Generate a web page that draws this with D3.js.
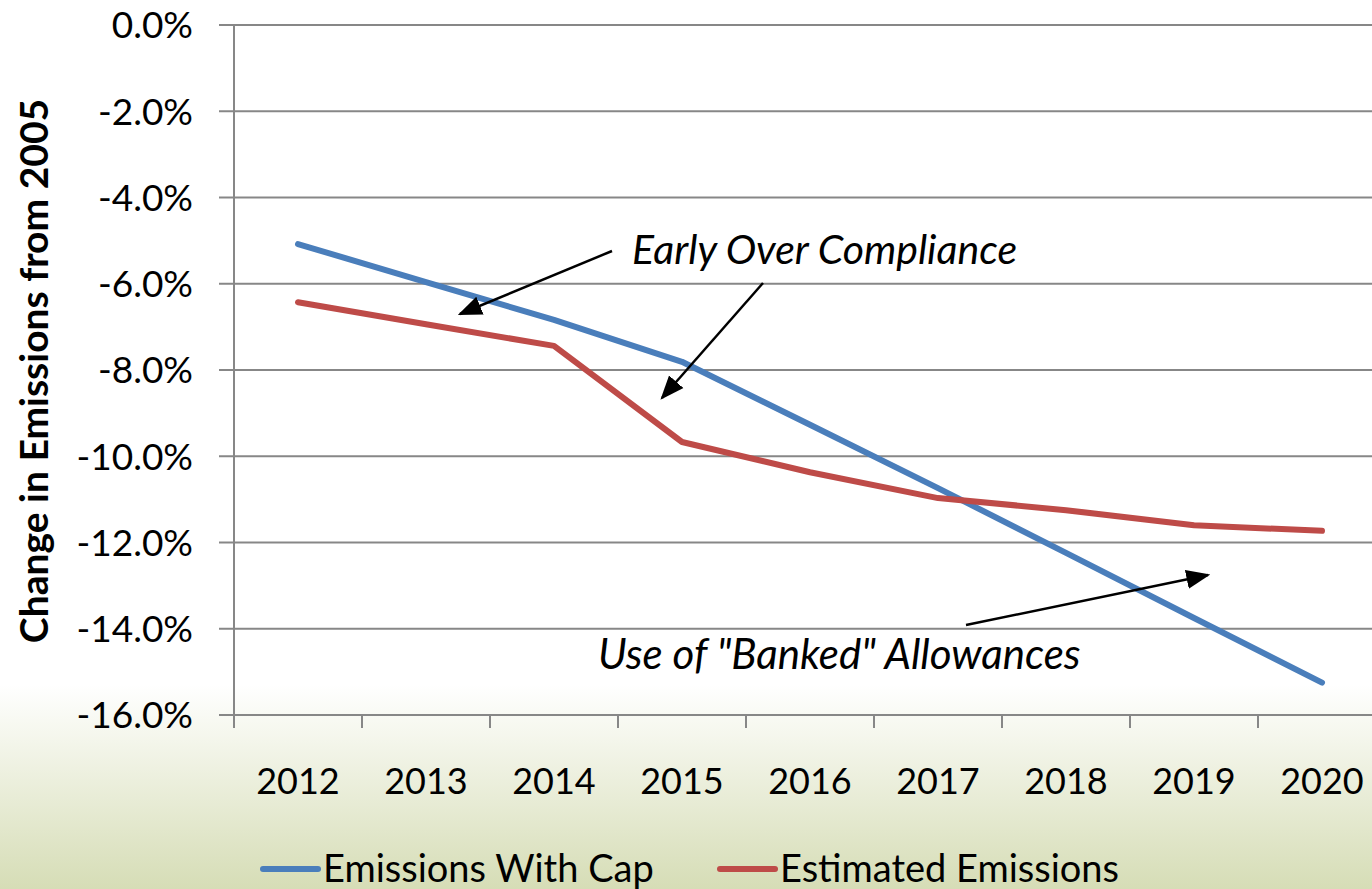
<!DOCTYPE html>
<html>
<head>
<meta charset="utf-8">
<script src="https://cdn.jsdelivr.net/npm/d3@7"></script>
<style>
body { margin: 0; overflow: hidden; }
svg { display: block; font-family: Lato, "Open Sans", sans-serif; }
</style>
</head>
<body>
<svg id="chart" width="1372" height="889"></svg>
<script>
// chart data
var years = ["2012","2013","2014","2015","2016","2017","2018","2019","2020"];
var withCap = [-5.08,-5.96,-6.84,-7.81,-9.27,-10.74,-12.24,-13.75,-15.25];
var estimated = [-6.43,-6.94,-7.44,-9.67,-10.37,-10.97,-11.25,-11.60,-11.73];
var yTicks = [0,-2,-4,-6,-8,-10,-12,-14,-16];
var seriesNames = ["Emissions With Cap","Estimated Emissions"];
var seriesColors = ["#4a7ebb","#be4b48"];

var svg = d3.select("#chart");
var W = 1372, H = 889;

// background gradient
var defs = svg.append("defs");
var grad = defs.append("linearGradient").attr("id","bg").attr("x1",0).attr("y1",0).attr("x2",0).attr("y2",1);
grad.append("stop").attr("offset","0").attr("stop-color","#ffffff");
grad.append("stop").attr("offset","0.77").attr("stop-color","#ffffff");
grad.append("stop").attr("offset","1").attr("stop-color","#d6ddb6");
svg.append("rect").attr("width",W).attr("height",H).attr("fill","url(#bg)");

var marker = defs.append("marker").attr("id","arrow").attr("viewBox","0 0 10 10")
	.attr("refX",9).attr("refY",5).attr("markerWidth",24).attr("markerHeight",24)
	.attr("markerUnits","userSpaceOnUse").attr("orient","auto");
marker.append("path").attr("d","M0,1 L10,5 L0,9 z").attr("fill","#000");

var plotLeft = 234, plotTop = 25, plotBottom = 715;
var x = d3.scaleBand().domain(years).range([plotLeft, plotLeft + 128*9]);
var y = d3.scaleLinear().domain([-16,0]).range([plotBottom, plotTop]);

var gridColor = "#878787";

// horizontal gridlines + y ticks
svg.append("g").selectAll("line").data(yTicks).enter().append("line")
	.attr("x1",219).attr("x2",W)
	.attr("y1",function(d){return y(d);}).attr("y2",function(d){return y(d);})
	.attr("stroke",gridColor).attr("stroke-width",2);

// y axis labels
svg.append("g").selectAll("text").data(yTicks).enter().append("text")
	.attr("x",193).attr("y",function(d){return y(d);})
	.attr("dy","0.36em").attr("text-anchor","end")
	.attr("font-size",37).attr("fill","#000")
	.text(function(d){return d3.format(".1f")(d).replace("−","-")+"%";});

// vertical axis line
svg.append("line").attr("x1",plotLeft).attr("x2",plotLeft).attr("y1",plotTop).attr("y2",plotBottom+13)
	.attr("stroke",gridColor).attr("stroke-width",2);

// x ticks
svg.append("g").selectAll("line").data(years.slice(1)).enter().append("line")
	.attr("x1",function(d){return x(d);}).attr("x2",function(d){return x(d);})
	.attr("y1",plotBottom).attr("y2",plotBottom+13)
	.attr("stroke",gridColor).attr("stroke-width",2);

// x labels
svg.append("g").selectAll("text").data(years).enter().append("text")
	.attr("x",function(d){return x(d)+x.bandwidth()/2;}).attr("y",794)
	.attr("text-anchor","middle").attr("font-size",36).attr("fill","#000")
	.text(function(d){return d;});

// y axis title
svg.append("text").attr("transform","translate(48,371) rotate(-90)")
	.attr("text-anchor","middle").attr("font-size",39).attr("font-weight","bold")
	.text("Change in Emissions from 2005");

// lines
var line = d3.line().x(function(d,i){return x(years[i])+x.bandwidth()/2;}).y(function(d){return y(d);});
[withCap, estimated].forEach(function(s,i){
	svg.append("path").datum(s).attr("d",line).attr("fill","none")
		.attr("stroke",seriesColors[i]).attr("stroke-width",6)
		.attr("stroke-linejoin","round").attr("stroke-linecap","round");
});

// annotations
function arrow(x1,y1,x2,y2){
	svg.append("line").attr("x1",x1).attr("y1",y1).attr("x2",x2).attr("y2",y2)
		.attr("stroke","#000").attr("stroke-width",2.5).attr("marker-end","url(#arrow)");
}
arrow(612,251,460,314);
arrow(763,283,662,398);
arrow(966,625,1208,575);

svg.append("text").attr("x",632).attr("y",264).attr("font-size",41).attr("font-style","italic")
	.text("Early Over Compliance");
svg.append("text").attr("x",598).attr("y",669).attr("font-size",42).attr("font-style","italic")
	.text('Use of "Banked" Allowances');

// legend
var legX = [263, 720];
seriesNames.forEach(function(n,i){
	svg.append("line").attr("x1",legX[i]).attr("x2",legX[i]+55).attr("y1",869).attr("y2",869)
		.attr("stroke",seriesColors[i]).attr("stroke-width",6).attr("stroke-linecap","round");
	svg.append("text").attr("x",legX[i]+60).attr("y",882).attr("font-size",38).text(n);
});
</script>
</body>
</html>
